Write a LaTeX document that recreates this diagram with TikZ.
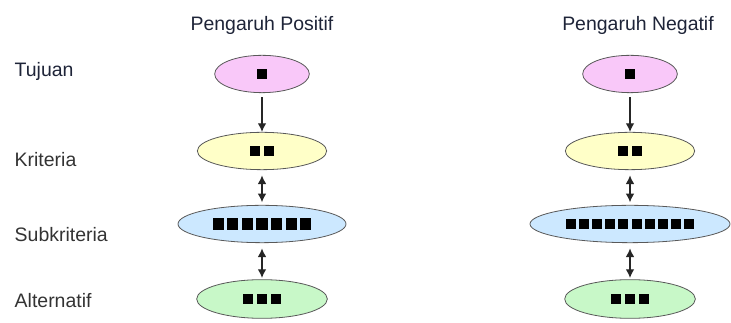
\documentclass[tikz,border=0pt]{standalone}
\usepackage{fontspec}
\setmainfont{Liberation Sans}
\usetikzlibrary{shapes.geometric,arrows.meta}
\definecolor{tujuanfill}{HTML}{F9C8F9}
\definecolor{kritfill}{HTML}{FFFFC8}
\definecolor{subfill}{HTML}{CCE8FF}
\definecolor{altfill}{HTML}{C8F8C8}
\definecolor{judul}{HTML}{1E2438}
% deretan kotak hitam di dalam elips, #1 = sisi kotak
\newcommand{\blok}[2][8pt]{\rule{#1}{#1}\ifnum#2>1 \foreach\i in {2,...,#2}{\kern\dimexpr#1*32/100\relax\rule{#1}{#1}}\fi}
\begin{document}
\begin{tikzpicture}[x=0.75pt,y=-0.75pt,
  font=\fontsize{14.6pt}{17pt}\selectfont,
  elips/.style={ellipse,draw=black!65,line width=0.6pt,inner sep=0pt,minimum height=28pt},
  panah/.style={draw=black!85,line width=0.9pt,-{Latex[length=6.5pt,width=6.5pt]}},
  panah2/.style={draw=black!85,line width=0.9pt,{Latex[length=6.5pt,width=6.5pt]}-{Latex[length=6.5pt,width=6.5pt]}}]
\useasboundingbox (0,0) rectangle (731,323);
% judul dan label tingkat
\node[text=judul] (judpos) at (262,25) {Pengaruh Positif};\node[text=judul] (judneg) at (638,25) {Pengaruh Negatif};
\node[anchor=west,text=judul] (ltujuan) at (10,71) {Tujuan};
\node[anchor=west,text=black!80] (lkrit) at (10,160) {Kriteria};
\node[anchor=west,text=black!80] (lsub) at (10,235) {Subkriteria};
\node[anchor=west,text=black!80] (lalt) at (10,301) {Alternatif};
% hirarki pengaruh positif
\node[elips,fill=tujuanfill,minimum width=71pt] (t1) at (262,74) {\blok{1}};
\node[elips,fill=kritfill,minimum width=97pt] (k1) at (262,151) {\blok{2}};
\node[elips,fill=subfill,minimum width=126pt] (s1) at (262,224) {\blok[8.3pt]{7}};
\node[elips,fill=altfill,minimum width=98pt,minimum height=29pt] (a1) at (262,299) {\blok{3}};
% hirarki pengaruh negatif
\node[elips,fill=tujuanfill,minimum width=71pt] (t2) at (630,74) {\blok{1}};
\node[elips,fill=kritfill,minimum width=97pt] (k2) at (630,151) {\blok{2}};
\node[elips,fill=subfill,minimum width=150pt] (s2) at (630,224) {\blok[7.5pt]{10}};
\node[elips,fill=altfill,minimum width=98pt,minimum height=29pt] (a2) at (630,299) {\blok{3}};
\draw[panah,shorten <=3pt] (t1) -- (k1);\draw[panah,shorten <=3pt] (t2) -- (k2);
\draw[panah2,shorten <=4pt,shorten >=2pt] (k1) -- (s1);\draw[panah2,shorten <=4pt,shorten >=2pt] (k2) -- (s2);
\draw[panah2,shorten <=4pt,shorten >=1pt] (s1) -- (a1);\draw[panah2,shorten <=4pt,shorten >=1pt] (s2) -- (a2);
\end{tikzpicture}
\end{document}
